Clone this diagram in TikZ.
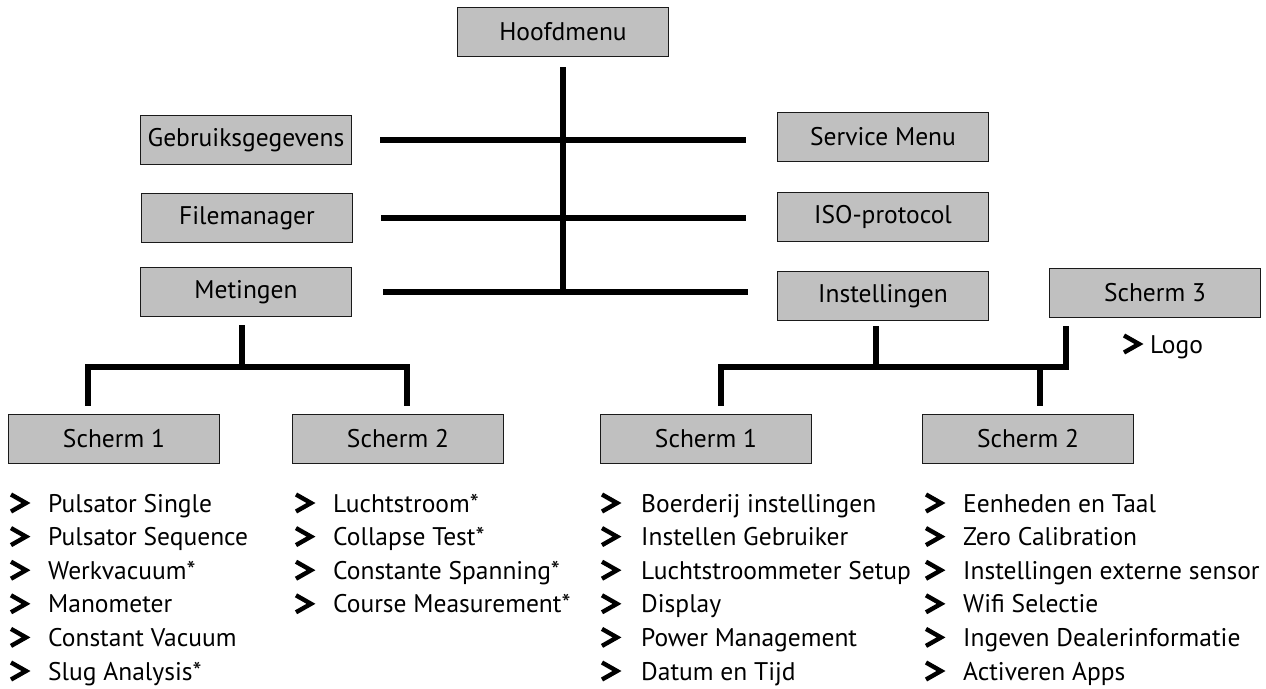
\documentclass[tikz,border=0pt]{standalone}
\usepackage{fontspec}
\setmainfont{PT Sans}
\usepackage{tikz}
\usetikzlibrary{calc,positioning}
\definecolor{boxgray}{HTML}{C0C0C0}
\definecolor{edgec}{HTML}{1A1A1A}
\tikzset{
  box/.style={draw=edgec,line width=1.3pt,fill=boxgray,minimum width=211pt,minimum height=49pt,inner sep=0pt,font=\fontsize{25.5}{30}\selectfont},
  conn/.style={line width=6pt,black},
  item/.style={anchor=base west,inner sep=0pt,font=\fontsize{25.5}{30}\selectfont},
  chev/.style={line width=4.4pt,black,miter limit=10}
}

\begin{document}
\begin{tikzpicture}[x=1pt,y=-1pt]
\useasboundingbox (0,0) rectangle (1266,688);
% menu boxes
\node[box] (hoofd) at (563,32) {Hoofdmenu};
\node[box] (gebruik) at (246,140) {Gebruiksgegevens};
\node[box] (service) at (883,137) {Service Menu};
\node[box] (fileman) at (247,218) {Filemanager};
\node[box] (iso) at (883,217) {ISO-protocol};
\node[box] (metingen) at (246,292) {Metingen};
\node[box] (instel) at (883,296) {Instellingen};
\node[box] (schermDrie) at (1155,293) {Scherm 3};
\node[box] (mSchermEen) at (114,439) {Scherm 1};
\node[box] (mSchermTwee) at (398,439) {Scherm 2};
\node[box] (iSchermEen) at (706,439) {Scherm 1};
\node[box] (iSchermTwee) at (1028,439) {Scherm 2};
% trunk and side branches
\draw[conn,shorten <=10] (hoofd.south) -- (hoofd.south |- metingen.east);
\draw[conn,shorten <=28,shorten >=31] (gebruik.east) -- (gebruik.east -| service.west);
\draw[conn,shorten <=28,shorten >=31] (fileman.east) -- (fileman.east -| iso.west);
\draw[conn,shorten <=31,shorten >=29] (metingen.east) -- (metingen.east -| instel.west);
% metingen
\coordinate (mfork) at (242,367);
\draw[conn,shorten <=8] (metingen.south -| mfork) -- (mfork);
\draw[conn,shorten <=8,shorten >=8] ([xshift=-26pt]mSchermEen.north) |- (mfork) -| ([xshift=9pt]mSchermTwee.north);
% instellingen
\coordinate (ifork) at (876,367);
\coordinate (sdrie) at ([xshift=-89pt]schermDrie.south);
\coordinate (itwee) at ([xshift=12pt]iSchermTwee.north);
\draw[conn,shorten <=5] (instel.south -| ifork) -- (ifork);
\draw[conn,shorten <=8,shorten >=8] ([xshift=15pt]iSchermEen.north) |- (sdrie |- ifork) -- (sdrie);
\draw[conn,shorten <=8] (itwee) -- (itwee |- ifork);
% item lists
\foreach \t [count=\i from 0] in {Pulsator Single,Pulsator Sequence,Werkvacuum*,Manometer,Constant Vacuum,Slug Analysis*}{
  \node[item] (ma\i) at (48,{512+33.6*\i}) {\t};
  \draw[chev] ([shift={(-37,-17.5)}]ma\i.base west) -- ++(15,8.5) -- ++(-15,8.5);
}
\foreach \t [count=\i from 0] in {Luchtstroom*,Collapse Test*,Constante Spanning*,Course Measurement*}{
  \node[item] (mb\i) at (333,{512+33.6*\i}) {\t};
  \draw[chev] ([shift={(-37,-17.5)}]mb\i.base west) -- ++(15,8.5) -- ++(-15,8.5);
}
\foreach \t [count=\i from 0] in {Boerderij instellingen,Instellen Gebruiker,Luchtstroommeter Setup,Display,Power Management,Datum en Tijd}{
  \node[item] (ia\i) at (641,{512+33.6*\i}) {\t};
  \draw[chev] ([shift={(-39,-17.5)}]ia\i.base west) -- ++(15,8.5) -- ++(-15,8.5);
}
\foreach \t [count=\i from 0] in {Eenheden en Taal,Zero Calibration,Instellingen externe sensor,Wifi Selectie,Ingeven Dealerinformatie,Activeren Apps}{
  \node[item] (ib\i) at (963,{512+33.6*\i}) {\t};
  \draw[chev] ([shift={(-37,-17.5)}]ib\i.base west) -- ++(15,8.5) -- ++(-15,8.5);
}
\node[item] (logo) at (1150,353) {Logo};
\draw[chev] ([shift={(-26,-17.5)}]logo.base west) -- ++(15,8.5) -- ++(-15,8.5);
\end{tikzpicture}
\end{document}
